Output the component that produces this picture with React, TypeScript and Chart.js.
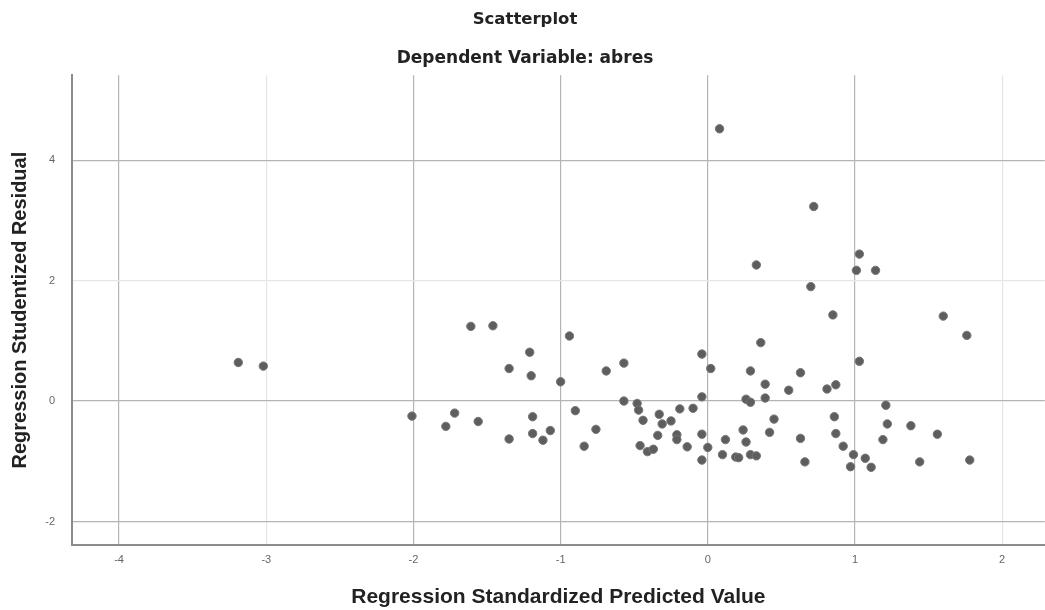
import React, { useEffect, useRef } from "react";
import { Chart, registerables } from "chart.js";

Chart.register(...registerables);

const titleText = "Scatterplot";
const subtitleText = "Dependent Variable: abres";
const xAxisTitle = "Regression Standardized Predicted Value";
const yAxisTitle = "Regression Studentized Residual";

// Regression standardized predicted values
const predictedValues: number[] = [
  -3.19, -3.02, -2.01, -1.78, -1.72, -1.61, -1.56, -1.46, -1.35, -1.35,
  -1.21, -1.2, -1.19, -1.19, -1.12, -1.07, -1.0, -0.94, -0.9, -0.84,
  -0.76, -0.69, -0.57, -0.57, -0.48, -0.47, -0.46, -0.44, -0.41, -0.37,
  -0.34, -0.33, -0.31, -0.25, -0.21, -0.21, -0.19, -0.14, -0.1, -0.04,
  -0.04, -0.04, -0.04, 0.0, 0.02, 0.08, 0.1, 0.12, 0.19, 0.21,
  0.24, 0.26, 0.26, 0.29, 0.29, 0.29, 0.33, 0.33, 0.36, 0.39,
  0.39, 0.42, 0.45, 0.55, 0.63, 0.63, 0.66, 0.7, 0.72, 0.81,
  0.85, 0.86, 0.87, 0.87, 0.92, 0.97, 0.99, 1.01, 1.03, 1.03,
  1.07, 1.11, 1.14, 1.19, 1.21, 1.22, 1.38, 1.44, 1.56, 1.6,
  1.76, 1.78,
];

// Regression studentized residuals
const residualValues: number[] = [
  0.64, 0.58, -0.25, -0.42, -0.2, 1.24, -0.34, 1.25, 0.54, -0.63,
  0.81, 0.42, -0.26, -0.54, -0.65, -0.49, 0.32, 1.08, -0.16, -0.75,
  -0.47, 0.5, 0.63, 0.0, -0.04, -0.15, -0.74, -0.32, -0.84, -0.8,
  -0.57, -0.22, -0.38, -0.33, -0.56, -0.64, -0.13, -0.76, -0.12, 0.78,
  0.07, -0.55, -0.98, -0.77, 0.54, 4.52, -0.89, -0.64, -0.93, -0.94,
  -0.48, 0.03, -0.68, 0.5, -0.02, -0.89, 2.26, -0.91, 0.97, 0.28,
  0.05, -0.52, -0.3, 0.18, 0.47, -0.62, -1.01, 1.9, 3.23, 0.2,
  1.43, -0.26, 0.27, -0.54, -0.75, -1.09, -0.89, 2.17, 2.44, 0.66,
  -0.95, -1.1, 2.17, -0.64, -0.07, -0.38, -0.41, -1.01, -0.55, 1.41,
  1.09, -0.98,
];

const xTicks: number[] = [-4, -3, -2, -1, 0, 1, 2];
const yTicks: number[] = [-2, 0, 2, 4];

export default function App() {
  const canvasRef = useRef<HTMLCanvasElement | null>(null);

  useEffect(() => {
    document.body.style.margin = "0";
    const canvas = canvasRef.current;
    if (!canvas) return;

    const points = predictedValues.map((x, i) => ({ x, y: residualValues[i] }));
    const faintX = new Set([-3, 2]);
    const faintY = new Set([2]);

    const chart = new Chart(canvas, {
      type: "scatter",
      data: {
        datasets: [
          {
            data: points,
            backgroundColor: "#5e5e5e",
            borderColor: "#767676",
            borderWidth: 1,
            pointRadius: 4.2,
            pointHoverRadius: 4.2,
          },
        ],
      },
      options: {
        animation: false,
        responsive: false,
        maintainAspectRatio: false,
        devicePixelRatio: 1,
        layout: { padding: { left: 0, right: 0, top: 0, bottom: 0 } },
        plugins: {
          legend: { display: false },
          tooltip: { enabled: false },
          title: {
            display: true,
            text: titleText,
            color: "#222",
            font: { family: "DejaVu Sans, sans-serif", size: 16.5, weight: "bold" },
            padding: { top: 10, bottom: 19 },
          },
          subtitle: {
            display: true,
            text: subtitleText,
            color: "#222",
            font: { family: "DejaVu Sans, sans-serif", size: 17, weight: "bold" },
            padding: { top: 0, bottom: 6 },
          },
        },
        scales: {
          x: {
            type: "linear",
            min: -4.32,
            max: 2.29,
            afterFit: (scale: any) => {
              scale.height = 65;
            },
            afterBuildTicks: (scale: any) => {
              scale.ticks = xTicks.map((v) => ({ value: v }));
            },
            ticks: {
              includeBounds: false,
              color: "#666",
              font: { family: "Liberation Sans, Arial, sans-serif", size: 11 },
              padding: 8,
              callback: (v: any) => String(v),
            },
            grid: {
              color: (ctx: any) =>
                ctx.tick && faintX.has(ctx.tick.value) ? "#e6e6e6" : "#b4b4b4",
              lineWidth: 1.2,
              drawTicks: false,
            },
            border: { display: true, color: "#8c8c8c", width: 2 },
            title: {
              display: true,
              text: xAxisTitle,
              color: "#222",
              font: { family: "Liberation Sans, Arial, sans-serif", size: 21, weight: "bold" },
              padding: { top: 9, bottom: 0 },
            },
          },
          y: {
            type: "linear",
            min: -2.39,
            max: 5.41,
            afterFit: (scale: any) => {
              scale.width = 72;
            },
            afterBuildTicks: (scale: any) => {
              scale.ticks = yTicks.map((v) => ({ value: v }));
            },
            ticks: {
              includeBounds: false,
              color: "#666",
              font: { family: "Liberation Sans, Arial, sans-serif", size: 11 },
              padding: 17,
              callback: (v: any) => String(v),
            },
            grid: {
              color: (ctx: any) =>
                ctx.tick && faintY.has(ctx.tick.value) ? "#e6e6e6" : "#b4b4b4",
              lineWidth: 1.2,
              drawTicks: false,
            },
            border: { display: true, color: "#8c8c8c", width: 2 },
            title: {
              display: true,
              text: yAxisTitle,
              color: "#222",
              font: { family: "Liberation Sans, Arial, sans-serif", size: 20, weight: "bold" },
              padding: { top: 8, bottom: 6 },
            },
          },
        },
      },
    });

    return () => {
      chart.destroy();
    };
  }, []);

  return (
    <div
      style={{
        position: "fixed",
        left: 0,
        top: 0,
        width: 1045,
        height: 610,
        overflow: "hidden",
        background: "#fff",
      }}
    >
      <canvas ref={canvasRef} width={1050} height={610} style={{ width: 1050, height: 610, display: "block" }} />
    </div>
  );
}
